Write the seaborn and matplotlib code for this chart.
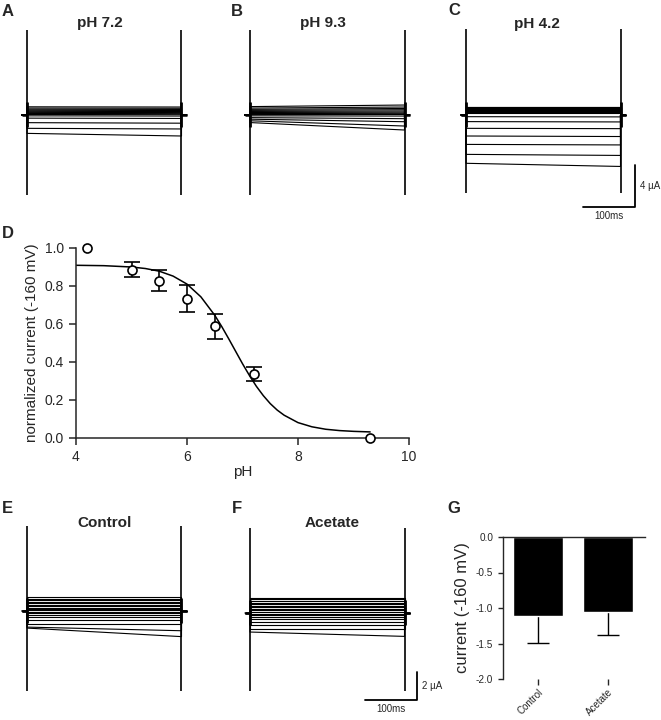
### pH dependence of the current: traces, titration curve and acetate control

import numpy as np
import pandas as pd
import seaborn as sns
import matplotlib
matplotlib.use("Agg")
import matplotlib.pyplot as plt

sns.set_style("ticks")
plt.rcParams['font.family'] = ['Liberation Sans', 'DejaVu Sans']
plt.rcParams['axes.unicode_minus'] = False

## pulse protocol (ms)
hold_pre, pulse_on, pulse_off, hold_post = -10, 0, 300, 310

## steady-state current of each sweep at pulse start / pulse end (uA)
ph72_start = [0.78, 0.66, 0.55, 0.45, 0.35, 0.25, 0.15, 0.05, -0.08, -0.3, -0.73, -1.27, -1.75]
ph72_end = [0.76, 0.64, 0.53, 0.43, 0.33, 0.23, 0.13, 0.03, -0.1, -0.33, -0.78, -1.33, -2.0]
ph93_start = [0.8, 0.66, 0.54, 0.44, 0.34, 0.24, 0.14, 0.04, -0.08, -0.25, -0.4, -0.55, -0.72]
ph93_end = [0.95, 0.76, 0.62, 0.5, 0.38, 0.27, 0.16, 0.05, -0.1, -0.35, -0.64, -1.05, -1.43]
ph42_start = [0.8, 0.72, 0.64, 0.56, 0.48, 0.4, 0.32, 0.2, -0.16, -0.63, -1.27, -2.0, -2.8, -3.75, -4.6]
ph42_end = [0.8, 0.72, 0.64, 0.56, 0.48, 0.4, 0.32, 0.2, -0.18, -0.66, -1.3, -2.05, -2.85, -3.85, -4.9]
ctrl_start = [0.98, 0.87, 0.76, 0.65, 0.55, 0.45, 0.35, 0.25, 0.15, 0.05, -0.06, -0.17, -0.28, -0.4, -0.64, -0.93, -1.15, -1.22]
ctrl_end = [0.98, 0.87, 0.76, 0.65, 0.55, 0.45, 0.35, 0.25, 0.15, 0.05, -0.06, -0.17, -0.28, -0.4, -0.64, -0.93, -1.41, -1.83]
acet_start = [1.1, 0.98, 0.86, 0.75, 0.63, 0.52, 0.41, 0.3, 0.19, 0.08, -0.05, -0.17, -0.28, -0.4, -0.64, -0.88, -1.16, -1.36]
acet_end = [1.1, 0.98, 0.86, 0.75, 0.63, 0.52, 0.41, 0.3, 0.19, 0.08, -0.05, -0.17, -0.28, -0.4, -0.64, -0.88, -1.16, -1.67]

## capacitive spike extent (uA): top, bottom
spike_ph72 = (8.1, -7.6)
spike_ph93 = (8.1, -7.6)
spike_ph42 = (8.2, -7.4)
spike_ctrl = (6.1, -5.7)
spike_acet = (6.1, -5.6)

## scale bars
bar_ms = 100
bar_ua_top = 4
bar_ua_bottom = 2

## panel D: normalized current at -160 mV vs pH
d_ph = [4.2, 5.0, 5.5, 6.0, 6.5, 7.2, 9.3]
d_norm = [1.0, 0.886, 0.828, 0.733, 0.588, 0.337, 0.0]
d_sem = [0.0, 0.039, 0.054, 0.07, 0.065, 0.037, 0.0]
# fitted curve
fit_ph = [4.0, 4.5, 5.0, 5.25, 5.5, 5.75, 6.0, 6.25, 6.5, 6.625, 6.75, 6.875, 7.0,
          7.125, 7.25, 7.375, 7.5, 7.625, 7.75, 8.0, 8.25, 8.5, 8.75, 9.0, 9.3]
fit_norm = [0.909, 0.907, 0.900, 0.892, 0.878, 0.852, 0.810, 0.743, 0.646, 0.587, 0.523,
            0.457, 0.391, 0.329, 0.272, 0.223, 0.181, 0.147, 0.120, 0.081, 0.059, 0.046,
            0.039, 0.035, 0.032]

## panel G: current at -160 mV
g_cond = ["Control", "Acetate"]
g_mean = [-1.11, -1.055]
g_sem = [0.38, 0.325]

W, H = 661, 720
fig = plt.figure(figsize=(W / 100, H / 100), dpi=100)
PX_MS = 0.515


def px_axes(left, top, right, bottom):
    return fig.add_axes([left / W, 1 - bottom / H, (right - left) / W, (bottom - top) / H])


def fig_text(x, y, s, **kw):
    fig.text(x / W, 1 - y / H, s, **kw)


def trace_frame(start, end):
    rows = []
    for k, (a, b) in enumerate(zip(start, end)):
        ts = [hold_pre, pulse_on, pulse_on, pulse_off, pulse_off, hold_post]
        ys = [0, 0, a, b, 0, 0]
        rows += [(k, t, y) for t, y in zip(ts, ys)]
    return pd.DataFrame(rows, columns=['sweep', 'time', 'current'])


def trace_panel(rect, x0, y0, px_ua, start, end, spike):
    left, top, right, bottom = rect
    ax = px_axes(left, top, right, bottom)
    df = trace_frame(start, end)
    sns.lineplot(data=df, x='time', y='current', units='sweep', estimator=None,
                 sort=False, color='black', lw=0.8, ax=ax, legend=False)
    ax.vlines([pulse_on, pulse_off], spike[1], spike[0], color='black', lw=1.2)
    ax.vlines([pulse_on, pulse_off], spike[1] * 0.15, spike[0] * 0.15, color='black', lw=2.0)
    ax.hlines(0, hold_pre, pulse_on, color='black', lw=1.8)
    ax.hlines(0, pulse_off, hold_post, color='black', lw=1.8)
    ax.set_xlim((left - x0) / PX_MS, (right - x0) / PX_MS)
    ax.set_ylim((y0 - bottom) / px_ua, (y0 - top) / px_ua)
    ax.axis('off')
    return ax


def scale_bar(ax, t_corner, i_corner, ms, ua):
    ax.plot([t_corner - ms, t_corner, t_corner], [i_corner, i_corner, i_corner + ua],
            color='black', lw=1.3, clip_on=False)
    ax.annotate(f'{ua} µA', (t_corner, i_corner + ua / 2), xytext=(4, 0),
                textcoords='offset points', ha='left', va='center', fontsize=7,
                annotation_clip=False)
    ax.annotate(f'{ms}ms', (t_corner - ms / 2, i_corner), xytext=(0, -3),
                textcoords='offset points', ha='center', va='top', fontsize=7,
                annotation_clip=False)


## top row traces
trace_panel((10, 25, 205, 205), 27, 115, 10.5, ph72_start, ph72_end, spike_ph72)
trace_panel((233, 25, 425, 205), 250, 115, 10.5, ph93_start, ph93_end, spike_ph93)
ax_c = trace_panel((450, 25, 640, 205), 466, 115, 10.5, ph42_start, ph42_end, spike_ph42)
scale_bar(ax_c, 328, -8.76, bar_ms, bar_ua_top)

## bottom row traces
trace_panel((10, 515, 205, 700), 27, 611, 14, ctrl_start, ctrl_end, spike_ctrl)
ax_f = trace_panel((233, 515, 420, 700), 250, 613, 14, acet_start, acet_end, spike_acet)
scale_bar(ax_f, 324, -6.2, bar_ms, bar_ua_bottom)

## panel D
ax_d = px_axes(76, 248, 409, 438)
sns.lineplot(x=fit_ph, y=fit_norm, color='black', lw=1.1, ax=ax_d)
pts = pd.DataFrame({'ph': d_ph, 'norm': d_norm, 'sem': d_sem})
with_err = pts[pts['sem'] > 0]
no_err = pts[pts['sem'] == 0]
ax_d.errorbar(with_err['ph'], with_err['norm'], yerr=with_err['sem'], fmt='o', ms=6.5,
              mfc='white', mec='black', mew=1.2, ecolor='black', elinewidth=1.2,
              capsize=5.5, capthick=1.2, zorder=3)
ax_d.plot(no_err['ph'], no_err['norm'], 'o', ms=6.5, mfc='white', mec='black', mew=1.2,
          clip_on=False, zorder=3)
ax_d.set_xlim(4, 10)
ax_d.set_ylim(0, 1.0)
ax_d.set_xticks([4, 6, 8, 10])
ax_d.set_yticks(np.arange(0, 1.01, 0.2))
ax_d.yaxis.set_major_formatter(matplotlib.ticker.FormatStrFormatter('%.1f'))
ax_d.set_xlabel('pH', fontsize=11, labelpad=1)
ax_d.set_ylabel('normalized current (-160 mV)', fontsize=11)
ax_d.tick_params(labelsize=10, length=5, width=1.1)
sns.despine(ax=ax_d)
for s in ['left', 'bottom']:
    ax_d.spines[s].set_linewidth(1.1)

## panel G
ax_g = px_axes(503, 537, 645, 679)
# error bars sit behind the bars so only the outward half shows
ax_g.errorbar([0, 1], g_mean, yerr=g_sem, fmt='none', ecolor='black',
              elinewidth=1.0, capsize=8, capthick=1.0, zorder=0.5)
sns.barplot(x=g_cond, y=g_mean, color='black', saturation=1, width=0.71,
            errorbar=None, ax=ax_g, zorder=1)
ax_g.set_xlim(-0.5, 1.53)
ax_g.set_ylim(-2.0, 0.0)
ax_g.set_yticks(np.arange(-2.0, 0.01, 0.5))
ax_g.yaxis.set_major_formatter(matplotlib.ticker.FormatStrFormatter('%.1f'))
ax_g.set_ylabel('current (-160 mV)', fontsize=12)
ax_g.tick_params(axis='y', labelsize=7.2, length=3.5, width=1.0)
ax_g.tick_params(axis='x', labelsize=7, length=4, width=1.0, pad=2)
plt.setp(ax_g.get_xticklabels(), rotation=45, ha='right', rotation_mode='anchor')
ax_g.spines['right'].set_visible(False)
ax_g.spines['bottom'].set_visible(False)
for s in ['left', 'top']:
    ax_g.spines[s].set_linewidth(1.0)

## titles and panel letters
for x, y, s in [(100, 27.5, 'pH 7.2'), (323, 27.5, 'pH 9.3'), (537, 28, 'pH 4.2'),
                (105, 527, 'Control'), (332, 527, 'Acetate')]:
    fig_text(x, y, s, ha='center', va='baseline', fontsize=11, fontweight='bold')
for x, y, s in [(2, 16, 'A'), (231, 16, 'B'), (448, 15, 'C'), (2, 238, 'D'),
                (2, 513, 'E'), (232, 513, 'F'), (447, 513, 'G')]:
    fig_text(x, y, s, ha='left', va='baseline', fontsize=12, fontweight='bold')

plt.savefig('out.png', dpi=100)
